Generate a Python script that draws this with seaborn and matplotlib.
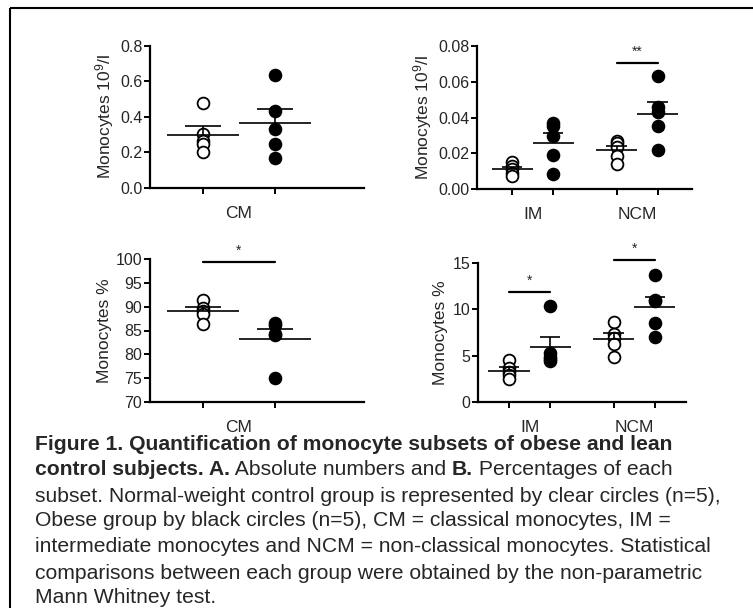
import numpy as np
import pandas as pd
import matplotlib
matplotlib.use("Agg")
import matplotlib.pyplot as plt
import seaborn as sns
from matplotlib.patches import Rectangle

# values (lean = open circles, obese = filled circles)
cm_abs_lean = [0.48, 0.305, 0.265, 0.247, 0.204]
cm_abs_obese = [0.636, 0.434, 0.333, 0.245, 0.168]
im_abs_lean = [0.015, 0.013, 0.011, 0.009, 0.0075]
im_abs_obese = [0.037, 0.035, 0.0297, 0.019, 0.0085]
ncm_abs_lean = [0.027, 0.0256, 0.0234, 0.0186, 0.0141]
ncm_abs_obese = [0.063, 0.0457, 0.043, 0.0355, 0.0219]

cm_pct_lean = [91.5, 89.8, 89.1, 88.4, 86.3]
cm_pct_obese = [86.6, 86.2, 84.2, 84.0, 75.0]
im_pct_lean = [4.55, 3.72, 3.29, 2.86, 2.51]
im_pct_obese = [10.35, 5.3, 4.9, 4.6, 4.4]
ncm_pct_lean = [8.6, 7.3, 6.9, 6.3, 4.9]
ncm_pct_obese = [13.7, 11.0, 10.9, 8.5, 7.0]

# significance bars: (subset, label, bar height)
abs_cm_sig = []
abs_sub_sig = [("NCM", "**", 0.0707)]
pct_cm_sig = [("CM", "*", 99.3)]
pct_sub_sig = [("IM", "*", 11.85), ("NCM", "*", 15.36)]

groups = ["Lean", "Obese"]
abs_label = "Monocytes 10$^{9}$/l"
pct_label = "Monocytes %"

caption_lines = [
    [("Figure 1. Quantification of monocyte subsets of obese and lean", "bold")],
    [("control subjects. A.", "bold"), (" Absolute numbers and ", "normal"),
     ("B.", "bold"), (" Percentages of each", "normal")],
    [("subset. Normal-weight control group is represented by clear circles (n=5),", "normal")],
    [("Obese group by black circles (n=5), CM = classical monocytes, IM =", "normal")],
    [("intermediate monocytes and NCM = non-classical monocytes. Statistical", "normal")],
    [("comparisons between each group were obtained by the non-parametric", "normal")],
    [("Mann Whitney test.", "normal")],
]
caption_baselines = [450.5, 475, 502.5, 526, 552, 579, 603]

sns.set_theme(style="ticks")
plt.rcParams["font.family"] = ["Liberation Sans", "DejaVu Sans"]
plt.rcParams["mathtext.fontset"] = "custom"
plt.rcParams["mathtext.rm"] = "Liberation Sans"
plt.rcParams["mathtext.it"] = "Liberation Sans:italic"

W, H = 753, 608
GAP = 2.55
CAPTION_SIZE = 15.2


def make_df(subsets):
    rows = []
    for si, (name, lean, obese) in enumerate(subsets):
        for gi, vals in enumerate([lean, obese]):
            for v in vals:
                rows.append({"subset": name, "group": groups[gi],
                             "pos": si * GAP + gi, "value": v})
    return pd.DataFrame(rows)


def draw_panel(box, subsets, ylim, yticks, ytick_fmt, xlim, ylabel, sig):
    left, top, right, bottom = box
    ax = fig.add_axes([left / W, 1 - bottom / H, (right - left) / W, (bottom - top) / H])
    df = make_df(subsets)
    lean = df[df["group"] == "Lean"]
    obese = df[df["group"] == "Obese"]
    sns.scatterplot(data=lean, x="pos", y="value", color="white", edgecolor="black",
                    s=72, linewidth=1.3, ax=ax, legend=False, zorder=3, clip_on=False)
    sns.scatterplot(data=obese, x="pos", y="value", color="black", edgecolor="black",
                    s=72, linewidth=1.3, ax=ax, legend=False, zorder=3, clip_on=False)

    # mean +/- SEM
    stats = df.groupby("pos")["value"].agg(["mean", "std", "count"])
    stats["sem"] = stats["std"] / np.sqrt(stats["count"])
    for pos, r in stats.iterrows():
        ax.hlines(r["mean"], pos - 0.5, pos + 0.5, color="black", lw=1.2, zorder=4)
        ax.vlines(pos, r["mean"], r["mean"] + r["sem"], color="black", lw=1.2, zorder=4)
        ax.hlines(r["mean"] + r["sem"], pos - 0.25, pos + 0.25, color="black", lw=1.2, zorder=4)

    names = [s[0] for s in subsets]
    for name, label, yb in sig:
        si = names.index(name)
        x0, x1 = si * GAP, si * GAP + 1
        ax.plot([x0, x1], [yb, yb], color="black", lw=1.6, clip_on=False)
        ax.annotate(label, xy=((x0 + x1) / 2, yb), xytext=(0, 3), textcoords="offset points",
                    ha="center", va="bottom", fontsize=10, annotation_clip=False)

    ax.set_xlim(*xlim)
    ax.set_ylim(*ylim)
    ax.set_yticks(yticks)
    ax.set_yticklabels([ytick_fmt.format(t) for t in yticks])
    ax.set_xticks(sorted(df["pos"].unique()))
    ax.set_xticklabels([])
    centers = [si * GAP + 0.5 for si in range(len(subsets))]
    ax.set_xticks(centers, names, minor=True)
    ax.tick_params(axis="x", which="minor", length=0, pad=13, labelsize=12.5)
    ax.tick_params(axis="both", which="major", length=4, width=1.4, color="black",
                   labelsize=11.5, pad=1.5, direction="out")
    ax.set_xlabel("")
    ax.set_ylabel(ylabel, fontsize=12.5, labelpad=3)
    sns.despine(ax=ax)
    for sp in ["left", "bottom"]:
        ax.spines[sp].set_linewidth(1.6)
        ax.spines[sp].set_color("black")
    return ax


fig = plt.figure(figsize=(W / 100, H / 100), dpi=100)

bg = fig.add_axes([0, 0, 1, 1], zorder=-1)
bg.set_axis_off()
bg.set_xlim(0, W)
bg.set_ylim(H, 0)
bg.add_patch(Rectangle((10, 8), W + 20, H + 20, fill=False, lw=1.5, edgecolor="black"))

draw_panel((150, 45.7, 364, 188),
           [("CM", cm_abs_lean, cm_abs_obese)],
           (0, 0.8), [0, 0.2, 0.4, 0.6, 0.8], "{:.1f}", (-0.736, 2.236),
           abs_label, abs_cm_sig)
draw_panel((477, 46, 692, 189),
           [("IM", im_abs_lean, im_abs_obese), ("NCM", ncm_abs_lean, ncm_abs_obese)],
           (0, 0.08), [0, 0.02, 0.04, 0.06, 0.08], "{:.2f}", (-0.854, 4.39),
           abs_label, abs_sub_sig)
draw_panel((150, 259, 364, 402),
           [("CM", cm_pct_lean, cm_pct_obese)],
           (70, 100), [70, 75, 80, 85, 90, 95, 100], "{:.0f}", (-0.736, 2.236),
           pct_label, pct_cm_sig)
draw_panel((478, 263, 686, 402),
           [("IM", im_pct_lean, im_pct_obese), ("NCM", ncm_pct_lean, ncm_pct_obese)],
           (0, 15), [0, 5, 10, 15], "{:.0f}", (-0.754, 4.31),
           pct_label, pct_sub_sig)

# caption with mixed bold / regular runs
for line, yb in zip(caption_lines, caption_baselines):
    prev = None
    for text, weight in line:
        if prev is None:
            prev = bg.text(35, yb, text, fontsize=CAPTION_SIZE, fontweight=weight,
                           ha="left", va="baseline")
        else:
            prev = bg.annotate(text, xy=(1, 0), xycoords=prev, xytext=(0, 0),
                               textcoords="offset points", fontsize=CAPTION_SIZE,
                               fontweight=weight, ha="left", va="bottom")

fig.savefig("out.png", dpi=100)
